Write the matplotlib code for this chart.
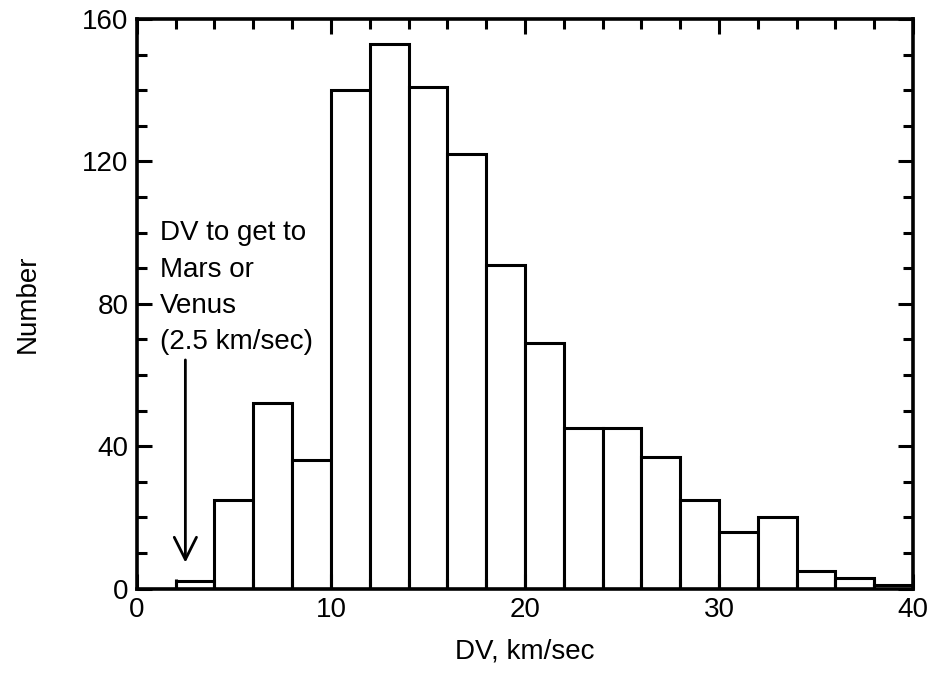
import numpy as np
import matplotlib
matplotlib.use("Agg")
import matplotlib.pyplot as plt
from matplotlib.ticker import MultipleLocator

# --- datos del histograma ---
bordes = [2, 4, 6, 8, 10, 12, 14, 16, 18, 20, 22, 24, 26, 28, 30, 32, 34, 36, 38, 40]
conteos = [2, 25, 52, 36, 140, 153, 141, 122, 91, 69, 45, 45, 37, 25, 16, 20, 5, 3, 1]

texto_nota = "DV to get to\nMars or\nVenus\n(2.5 km/sec)"
dv_marte = 2.5

plt.rcParams['font.family'] = ['Liberation Sans', 'DejaVu Sans']
plt.rcParams['font.size'] = 20

fig = plt.figure(figsize=(9.31, 6.88), dpi=100)
ax = fig.add_axes([0.147, 0.1446, 0.8337, 0.8278])

izq = np.array(bordes[:-1])
anchos = np.diff(bordes)
ax.bar(izq, conteos, width=anchos, align='edge', facecolor='white',
       edgecolor='black', linewidth=2.2)

ax.set_xlim(0, 40)
ax.set_ylim(0, 160)
ax.xaxis.set_major_locator(MultipleLocator(10))
ax.xaxis.set_minor_locator(MultipleLocator(2))
ax.yaxis.set_major_locator(MultipleLocator(40))
ax.yaxis.set_minor_locator(MultipleLocator(10))
ax.tick_params(which='both', direction='in', top=True, right=True, width=2.2,
               labelsize=20)
ax.tick_params(which='major', length=11, pad=6)
ax.tick_params(which='minor', length=7)
for s in ax.spines.values():
    s.set_linewidth(2.6)

ax.set_xlabel("DV, km/sec", fontsize=20, labelpad=11)
ax.set_ylabel("Number", fontsize=20, labelpad=30)

# flecha y nota
ax.annotate("", xy=(dv_marte, 6.5), xytext=(dv_marte, 65),
            arrowprops=dict(arrowstyle='->', color='black', lw=2,
                            mutation_scale=40))
ax.text(1.2, 103.5, texto_nota, fontsize=20, va='top', ha='left',
        linespacing=1.52)

fig.savefig("out.png", dpi=100)
